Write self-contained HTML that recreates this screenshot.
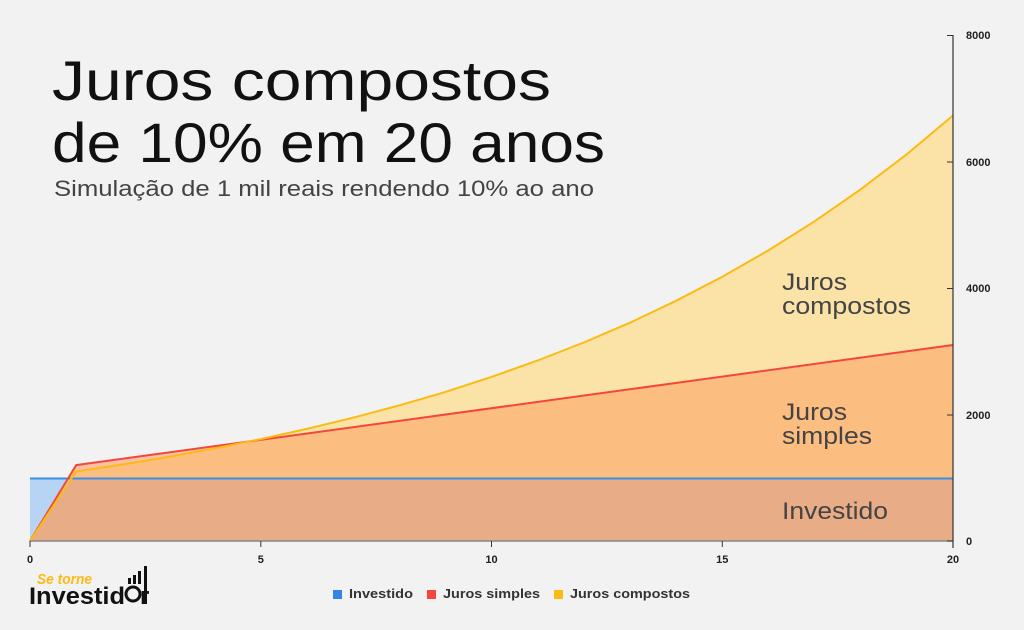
<!DOCTYPE html>
<html><head><meta charset="utf-8"><style>
body{margin:0;background:#f2f2f2;}
svg{display:block;font-family:"Liberation Sans",sans-serif;}
</style></head><body>
<svg width="1024" height="630" viewBox="0 0 1024 630">
<rect width="1024" height="630" fill="#f2f2f2"/>
<polygon fill="#fbe3a8" points="30,541 76.2,471.4 122.3,464.5 168.5,456.8 214.6,448.4 260.8,439.1 306.9,428.9 353.1,417.7 399.2,405.4 445.4,391.9 491.5,376.9 537.7,360.5 583.8,342.5 630,322.7 676.1,300.8 722.3,276.8 768.4,250.4 814.6,221.3 860.7,189.3 906.9,154.2 953,115.5 953,541"/>
<polygon fill="#fbbd80" points="30,541 76.2,465.1 953,345 953,541"/>
<polygon fill="#fbbd80" points="30,541 76.2,471.4 122.3,464.5 168.5,456.8 214.6,448.4 260.8,441 953,541"/>
<polygon fill="#f9c0a6" points="76.2,465.1 260.8,440 214.6,448.4 168.5,456.8 122.3,464.5 76.2,471.4"/>
<polygon fill="#b8d4f4" points="30,541 30,478.5 953,478.5 953,541"/>
<polygon fill="#e8ad86" points="30,541 71,478.5 953,478.5 953,541"/>
<polyline fill="none" stroke="#3b8ee6" stroke-width="2" points="30,478.5 953,478.5"/>
<polyline fill="none" stroke="#f4473a" stroke-width="2" points="30,541 76.2,465.1 953,345"/>
<polyline fill="none" stroke="#fbbb12" stroke-width="2" points="30,541 76.2,471.4 122.3,464.5 168.5,456.8 214.6,448.4 260.8,439.1 306.9,428.9 353.1,417.7 399.2,405.4 445.4,391.9 491.5,376.9 537.7,360.5 583.8,342.5 630,322.7 676.1,300.8 722.3,276.8 768.4,250.4 814.6,221.3 860.7,189.3 906.9,154.2 953,115.5"/>
<line x1="30" y1="541" x2="953" y2="541" stroke="#888" stroke-width="1.5"/>
<line x1="953" y1="35" x2="953" y2="548" stroke="#333" stroke-width="1.2"/>
<g stroke="#333" stroke-width="1">
<line x1="947" y1="35.5" x2="953" y2="35.5"/><line x1="947" y1="162" x2="953" y2="162"/>
<line x1="947" y1="288.5" x2="953" y2="288.5"/><line x1="947" y1="415" x2="953" y2="415"/>
<line x1="947" y1="541" x2="953" y2="541"/>
<line x1="30" y1="541" x2="30" y2="547"/><line x1="260.8" y1="541" x2="260.8" y2="547"/>
<line x1="491.5" y1="541" x2="491.5" y2="547"/><line x1="722.3" y1="541" x2="722.3" y2="547"/>
</g>
<g font-size="11" font-weight="bold" fill="#222">
<text x="966" y="39">8000</text><text x="966" y="166">6000</text><text x="966" y="292">4000</text><text x="966" y="419">2000</text><text x="966" y="545">0</text>
<text x="30" y="563" text-anchor="middle">0</text><text x="260.8" y="563" text-anchor="middle">5</text>
<text x="491.5" y="563" text-anchor="middle">10</text><text x="722.3" y="563" text-anchor="middle">15</text><text x="953" y="563" text-anchor="middle">20</text>
</g>
<g font-size="24" fill="#444">
<text x="782" y="290" textLength="65" lengthAdjust="spacingAndGlyphs">Juros</text>
<text x="782" y="314" textLength="129" lengthAdjust="spacingAndGlyphs">compostos</text>
<text x="782" y="420" textLength="65" lengthAdjust="spacingAndGlyphs">Juros</text>
<text x="782" y="444" textLength="90" lengthAdjust="spacingAndGlyphs">simples</text>
<text x="782" y="519" textLength="106" lengthAdjust="spacingAndGlyphs">Investido</text>
</g>
<text x="52" y="100" font-size="56" fill="#111" textLength="499" lengthAdjust="spacingAndGlyphs">Juros compostos</text>
<text x="52" y="162" font-size="56" fill="#111" textLength="553" lengthAdjust="spacingAndGlyphs">de 10% em 20 anos</text>
<text x="54" y="196" font-size="22" fill="#444" textLength="540" lengthAdjust="spacingAndGlyphs">Simulação de 1 mil reais rendendo 10% ao ano</text>
<g font-size="13" font-weight="bold" fill="#333">
<rect x="333" y="590" width="9" height="9" fill="#2f86e6"/><text x="349" y="598" textLength="64" lengthAdjust="spacingAndGlyphs">Investido</text>
<rect x="427" y="590" width="9" height="9" fill="#f4473a"/><text x="443" y="598" textLength="97" lengthAdjust="spacingAndGlyphs">Juros simples</text>
<rect x="554" y="590" width="9" height="9" fill="#fbbb12"/><text x="570" y="598" textLength="120" lengthAdjust="spacingAndGlyphs">Juros compostos</text>
</g>
<text x="37" y="584" font-size="15" font-style="italic" font-weight="bold" fill="#fbbb12" textLength="55" lengthAdjust="spacingAndGlyphs">Se torne</text>
<text x="29" y="604" font-size="24" font-weight="bold" fill="#111" textLength="96" lengthAdjust="spacingAndGlyphs">Investid</text>
<circle cx="133" cy="594" r="7" fill="none" stroke="#111" stroke-width="3"/>
<text x="140" y="604" font-size="24" font-weight="bold" fill="#111">r</text>
<g fill="#111"><rect x="128" y="578" width="3" height="6"/><rect x="133" y="575" width="3" height="9"/><rect x="138" y="571" width="3" height="13"/><rect x="144" y="566" width="3" height="38"/></g>
</svg>
</body></html>
